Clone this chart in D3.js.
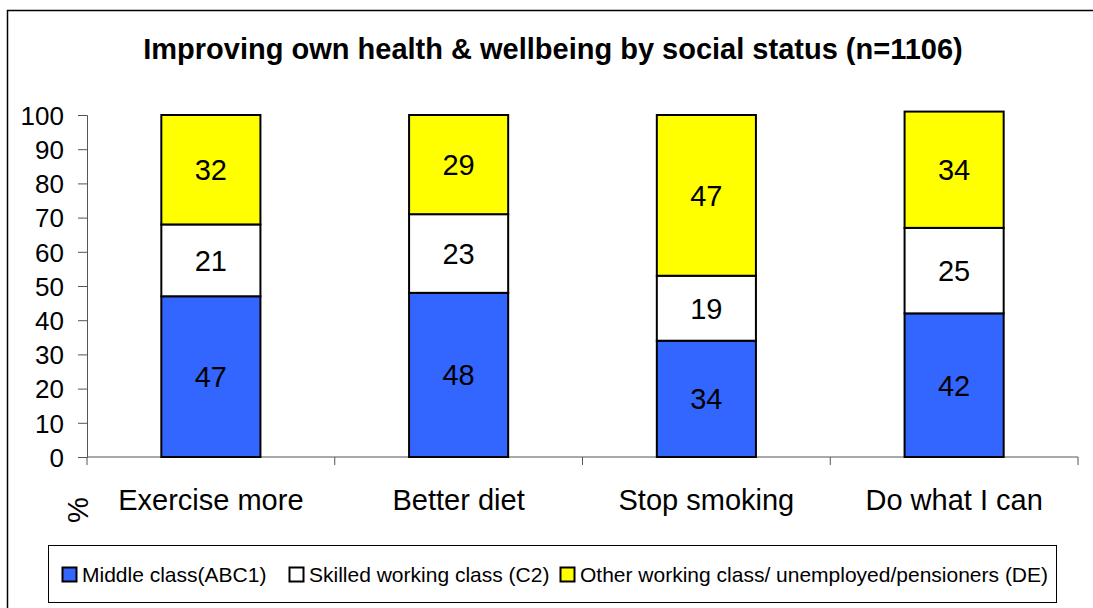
<!DOCTYPE html>
<meta charset="utf-8">
<style>
  body { margin: 0; background: #fff; }
  svg { font-family: "Liberation Sans", Arial, sans-serif; }
</style>
<script src="https://d3js.org/d3.v7.min.js"></script>
<div id="chart"></div>
<script>
// data
var categories = ["Exercise more", "Better diet", "Stop smoking", "Do what I can"];
var seriesNames = ["Middle class(ABC1)", "Skilled working class (C2)", "Other working class/ unemployed/pensioners (DE)"];
var seriesColors = ["#3366ff", "#ffffff", "#ffff00"];
var middleClass = [47, 48, 34, 42];
var skilledWorking = [21, 23, 19, 25];
var otherWorking = [32, 29, 47, 34];
var yTicks = [0, 10, 20, 30, 40, 50, 60, 70, 80, 90, 100];

var width = 1093, height = 608;

var svg = d3.select("#chart").append("svg")
    .attr("width", width)
    .attr("height", height);

// outer frame (right and bottom edges fall outside the picture)
svg.append("rect")
    .attr("x", 7.5).attr("y", 10.5)
    .attr("width", 1100).attr("height", 620)
    .attr("fill", "#fff").attr("stroke", "#000").attr("stroke-width", 1.5);

svg.append("text")
    .attr("x", 553).attr("y", 59)
    .attr("text-anchor", "middle")
    .style("font-size", "29px").style("font-weight", "bold")
    .text("Improving own health & wellbeing by social status (n=1106)");

var x = d3.scaleBand().domain(categories).range([87, 1078]).padding(0);
var y = d3.scaleLinear().domain([0, 100]).range([457, 115]);

var rows = categories.map(function(c, i) {
  return {cat: c, v0: middleClass[i], v1: skilledWorking[i], v2: otherWorking[i]};
});
var stack = d3.stack().keys(["v0", "v1", "v2"])(rows);

// y axis
var yAxis = svg.append("g")
    .attr("transform", "translate(87,0)")
    .call(d3.axisLeft(y).tickValues(yTicks).tickSize(9).tickPadding(14));
yAxis.select(".domain").attr("stroke", "#555");
yAxis.selectAll(".tick line").attr("stroke", "#555");
yAxis.selectAll("text").style("font-size", "26px").attr("fill", "#000").attr("dy", "0.36em");

// x axis
var xAxis = svg.append("g")
    .attr("transform", "translate(0,457)");
xAxis.append("line")
    .attr("x1", 87).attr("x2", 1078)
    .attr("stroke", "#555");
xAxis.selectAll("line.sep")
  .data(categories.concat([null]))
  .enter().append("line")
    .attr("class", "sep")
    .attr("x1", function(d, i) { return i < categories.length ? x(d) : x.range()[1]; })
    .attr("x2", function(d, i) { return i < categories.length ? x(d) : x.range()[1]; })
    .attr("y1", 0).attr("y2", 8)
    .attr("stroke", "#555");
xAxis.selectAll("text.cat")
  .data(categories)
  .enter().append("text")
    .attr("class", "cat")
    .attr("x", function(d) { return x(d) + x.bandwidth() / 2; })
    .attr("y", 53)
    .attr("text-anchor", "middle")
    .style("font-size", "29px")
    .text(function(d) { return d; });

svg.append("text")
    .attr("transform", "translate(88,510) rotate(-90)")
    .attr("text-anchor", "middle")
    .style("font-size", "29px")
    .text("%");

// bars
var barW = x.bandwidth() * 0.4;
stack.forEach(function(layer, si) {
  var g = svg.append("g");
  g.selectAll("rect")
    .data(layer)
    .enter().append("rect")
      .attr("x", function(d) { return x(d.data.cat) + (x.bandwidth() - barW) / 2; })
      .attr("y", function(d) { return y(d[1]); })
      .attr("width", barW)
      .attr("height", function(d) { return y(d[0]) - y(d[1]); })
      .attr("fill", seriesColors[si])
      .attr("stroke", "#000")
      .attr("stroke-width", 2);
  g.selectAll("text")
    .data(layer)
    .enter().append("text")
      .attr("x", function(d) { return x(d.data.cat) + x.bandwidth() / 2; })
      .attr("y", function(d) { return (y(d[0]) + y(d[1])) / 2; })
      .attr("dy", "0.36em")
      .attr("text-anchor", "middle")
      .style("font-size", "29px")
      .text(function(d) { return d[1] - d[0]; });
});

// legend
var legend = svg.append("g");
legend.append("rect")
    .attr("x", 48.5).attr("y", 545.5)
    .attr("width", 1008).attr("height", 57)
    .attr("fill", "#fff").attr("stroke", "#000");
var legendX = [62, 289, 560];
var items = legend.selectAll("g.item")
  .data(seriesNames)
  .enter().append("g")
    .attr("class", "item")
    .attr("transform", function(d, i) { return "translate(" + legendX[i] + ",574)"; });
items.append("rect")
    .attr("x", 0.5).attr("y", -6.5)
    .attr("width", 14).attr("height", 14)
    .attr("fill", function(d, i) { return seriesColors[i]; })
    .attr("stroke", "#000").attr("stroke-width", 2);
items.append("text")
    .attr("x", 20).attr("y", 0)
    .attr("dy", "0.36em")
    .style("font-size", "21px")
    .text(function(d) { return d; });
</script>
